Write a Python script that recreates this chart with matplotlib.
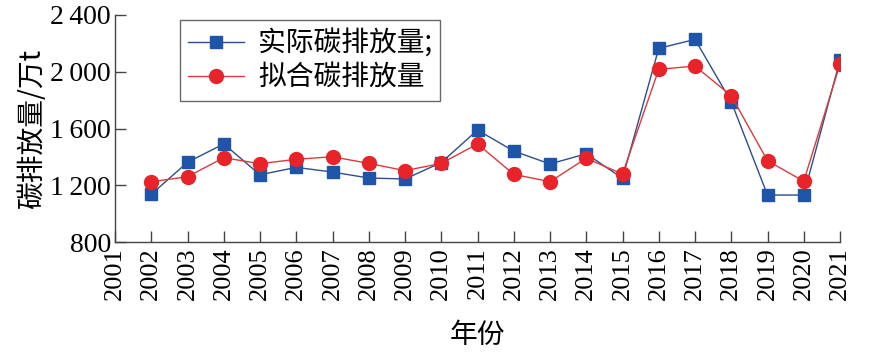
import matplotlib
matplotlib.use("Agg")
import matplotlib.pyplot as plt
from matplotlib.ticker import FixedLocator

years = list(range(2001, 2022))
data_years = list(range(2002, 2022))
actual = [1136, 1362, 1491, 1274, 1326, 1293, 1251, 1244, 1360, 1589,
          1441, 1350, 1422, 1249, 2165, 2228, 1789, 1131, 1131, 2083]
fitted = [1225, 1260, 1394, 1352, 1383, 1401, 1354, 1303, 1354, 1491,
          1277, 1225, 1390, 1279, 2017, 2040, 1831, 1373, 1228, 2054]
yticks = [800, 1200, 1600, 2000, 2400]
ytick_labels = ["800", "1\u2009200", "1\u2009600", "2\u2009000", "2\u2009400"]
xtick_labels = [str(y) for y in years]

serif = ["Liberation Serif", "DejaVu Serif"]
cjk = ["Noto Sans CJK SC", "Liberation Serif", "DejaVu Sans"]

fig = plt.figure(figsize=(8.8, 3.58), dpi=100)
ax = fig.add_axes([115/880, 1-242/358, (840-115)/880, (242-15)/358])

ax.plot(data_years, actual, color="#2b4f8c", lw=1.0, marker="s", ms=8.6,
        mfc="#1f55a8", mec="#1f55a8", label="实际碳排放量;")
ax.plot(data_years, fitted, color="#e0393c", lw=1.0, marker="o", ms=10,
        mfc="#e8242a", mec="#e8242a", label="拟合碳排放量")

ax.set_xlim(2001, 2021)
ax.set_ylim(800, 2400)
ax.xaxis.set_major_locator(FixedLocator(years))
ax.set_xticklabels(xtick_labels, rotation=90, family=serif, fontsize=19)
ax.yaxis.set_major_locator(FixedLocator(yticks))
ax.set_yticklabels(ytick_labels, family=serif, fontsize=20)

ax.spines["top"].set_visible(False)
ax.spines["right"].set_visible(False)
for s in ("left", "bottom"):
    ax.spines[s].set_color("#444444")
    ax.spines[s].set_linewidth(1.0)
ax.tick_params(axis="both", direction="in", length=8, width=1.0, color="#444444")
ax.tick_params(axis="x", pad=4)
ax.tick_params(axis="y", pad=3)

ax.set_ylabel("碳排放量/万t", family=cjk, fontsize=20, labelpad=2)
ax.set_xlabel("年份", family=cjk, fontsize=20, labelpad=14)

leg = ax.legend(loc="upper left", bbox_to_anchor=(65/725, 1-5/227),
                prop={"family": cjk, "size": 20}, frameon=True, fancybox=False,
                edgecolor="#444444", handlelength=2.0, handletextpad=0.5,
                borderpad=0.3, labelspacing=0.15, borderaxespad=0)
leg.get_frame().set_linewidth(1.0)

fig.savefig("out.png", dpi=100)
